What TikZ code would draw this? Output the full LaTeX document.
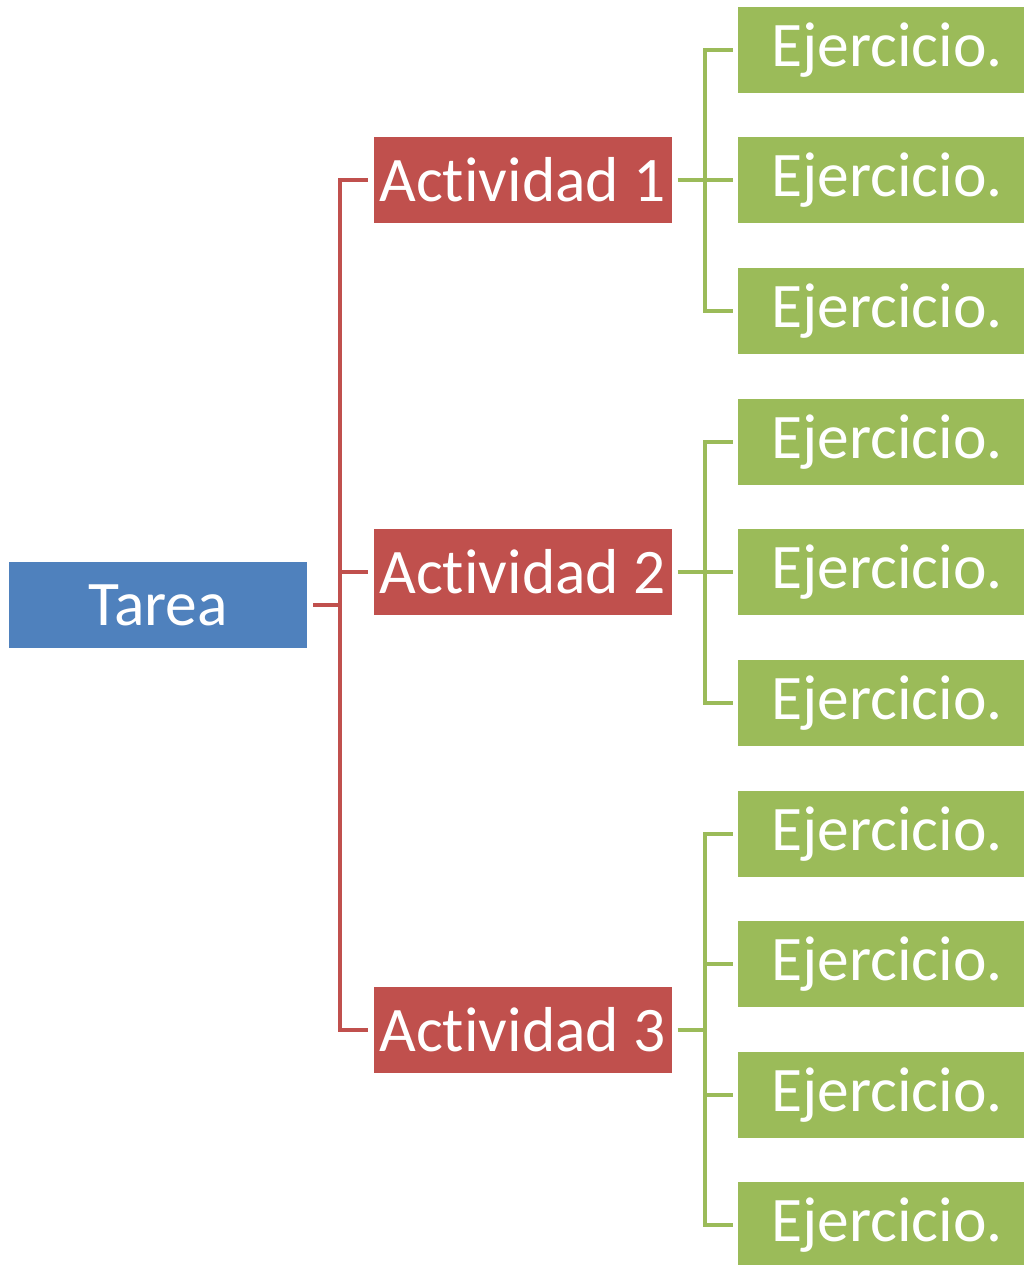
\documentclass[tikz,border=0pt]{standalone}
\usepackage{fontspec}
\setmainfont{Carlito}[Ligatures=NoCommon]
\definecolor{cblue}{HTML}{4F81BD}
\definecolor{cred}{HTML}{C0504D}
\definecolor{cgreen}{HTML}{9BBB59}
\begin{document}
\begin{tikzpicture}[x=1pt,y=-1pt,
  box/.style={minimum width=298pt,minimum height=86pt,inner sep=0pt,text=white,font=\fontsize{63.5}{63.5}\selectfont,anchor=center},
  root/.style={box,fill=cblue},
  act/.style={box,fill=cred},
  ej/.style={box,fill=cgreen},
  rl/.style={draw=cred,line width=4pt},
  gl/.style={draw=cgreen,line width=4pt}]
\useasboundingbox (0,0) rectangle (1024,1265);
\clip (0,0) rectangle (1024,1265);
\node[root] (t) at (158,605) {\raisebox{-2pt}{Tarea}};
\node[act] (a1) at (522.5,180) {\raisebox{-2pt}{Act\kern0pt ividad 1}};
\node[act] (a2) at (522.5,572) {\raisebox{-2pt}{Act\kern0pt ividad 2}};
\node[act] (a3) at (522.5,1030) {\raisebox{-2pt}{Act\kern0pt ividad 3}};
\foreach \n/\y in {1/50,2/180,3/311,4/442,5/572,6/703,7/834,8/964,9/1095,10/1225}
  \node[ej] (e\n) at (887,\y) {\raisebox{-2pt}{Ejercicio.}};
% red tree
\coordinate (rb) at (340,605);
\draw[rl] ([xshift=6pt]t.east) -- (rb);
\draw[rl,line cap=rect] (rb|-a1) -- (rb|-a3);
\foreach \a in {a1,a2,a3}
  \draw[rl] (rb|-\a) -- ([xshift=-5pt]\a.west);
% green trees
\coordinate (gb) at (705,0);
\foreach \a/\f/\l/\kids in {a1/e1/e3/{e1,e2,e3},a2/e4/e6/{e4,e5,e6},a3/e7/e10/{e7,e8,e9,e10}}{
  \draw[gl] ([xshift=6pt]\a.east) -- (gb|-\a);
  \draw[gl,line cap=rect] (gb|-\f) -- (gb|-\l);
  \foreach \k in \kids
    \draw[gl] (gb|-\k) -- ([xshift=-5pt]\k.west);
}
\end{tikzpicture}
\end{document}
